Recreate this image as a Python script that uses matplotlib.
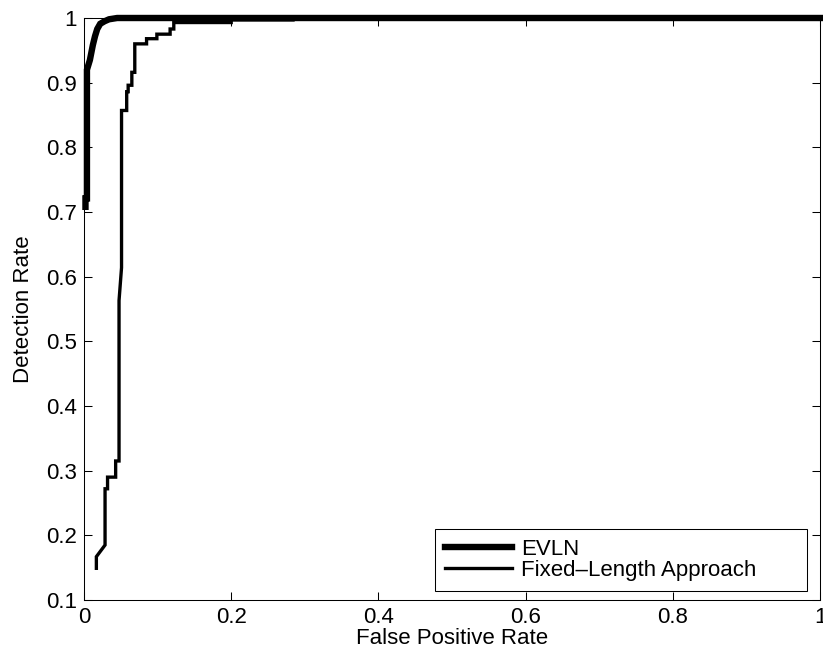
import matplotlib
matplotlib.use('Agg')
from matplotlib import pyplot as plt

plt.rcParams['font.family'] = ['Liberation Sans', 'DejaVu Sans']

# ROC points
evln_fpr = [0.002, 0.002, 0.004, 0.004, 0.008, 0.012, 0.015, 0.018, 0.022,
            0.028, 0.034, 0.045, 1.0]
evln_tpr = [0.708, 0.721, 0.721, 0.920, 0.935, 0.958, 0.972, 0.983, 0.991,
            0.995, 0.998, 1.0, 1.0]

fixed_fpr = [0.0168, 0.0168, 0.0286, 0.0286, 0.032, 0.032, 0.043, 0.043,
             0.0476, 0.0476, 0.051, 0.051, 0.058, 0.058, 0.060, 0.060,
             0.065, 0.065, 0.069, 0.069, 0.085, 0.085, 0.099, 0.099,
             0.117, 0.117, 0.122, 0.122, 0.200, 0.200, 0.284, 0.284, 1.0]
fixed_tpr = [0.149, 0.167, 0.185, 0.272, 0.272, 0.290, 0.290, 0.315,
             0.315, 0.563, 0.614, 0.857, 0.857, 0.886, 0.886, 0.896,
             0.896, 0.916, 0.916, 0.960, 0.960, 0.968, 0.968, 0.975,
             0.975, 0.983, 0.983, 0.993, 0.993, 0.997, 0.997, 1.0, 1.0]

xticks = [0, 0.2, 0.4, 0.6, 0.8, 1]
xticklabels = ['0', '0.2', '0.4', '0.6', '0.8', '1']
yticks = [0.1, 0.2, 0.3, 0.4, 0.5, 0.6, 0.7, 0.8, 0.9, 1]
yticklabels = ['0.1', '0.2', '0.3', '0.4', '0.5', '0.6', '0.7', '0.8', '0.9', '1']

fig = plt.figure(figsize=(8.23, 6.58), dpi=100)
ax = fig.add_axes([84 / 823, 58 / 658, 736 / 823, 582 / 658])

ax.plot(evln_fpr, evln_tpr, color='black', linewidth=4.6, label='EVLN',
        clip_on=False, solid_joinstyle='miter')
ax.plot(fixed_fpr, fixed_tpr, color='black', linewidth=2.4,
        label='Fixed\u2013Length Approach', clip_on=False,
        solid_joinstyle='miter')

ax.set_xlim(0, 1)
ax.set_ylim(0.1, 1)
ax.set_xticks(xticks)
ax.set_xticklabels(xticklabels)
ax.set_yticks(yticks)
ax.set_yticklabels(yticklabels)
ax.tick_params(direction='in', top=True, right=True, length=5.5, width=0.75,
               labelsize=16, pad=5)
for s in ax.spines.values():
    s.set_linewidth(0.75)

ax.set_xlabel('False Positive Rate', fontsize=16, labelpad=0)
ax.set_ylabel('Detection Rate', fontsize=16, labelpad=9)

leg = ax.legend(loc='lower left', bbox_to_anchor=(0.477, 0.0155, 0.5054, 0.12),
                mode='expand', fontsize=16, fancybox=False,
                edgecolor='black', framealpha=1, handlelength=3.0,
                borderaxespad=0, borderpad=0.45, labelspacing=0.0,
                handletextpad=0.4)
leg.get_frame().set_linewidth(0.75)

fig.savefig('out.png', dpi=100)
